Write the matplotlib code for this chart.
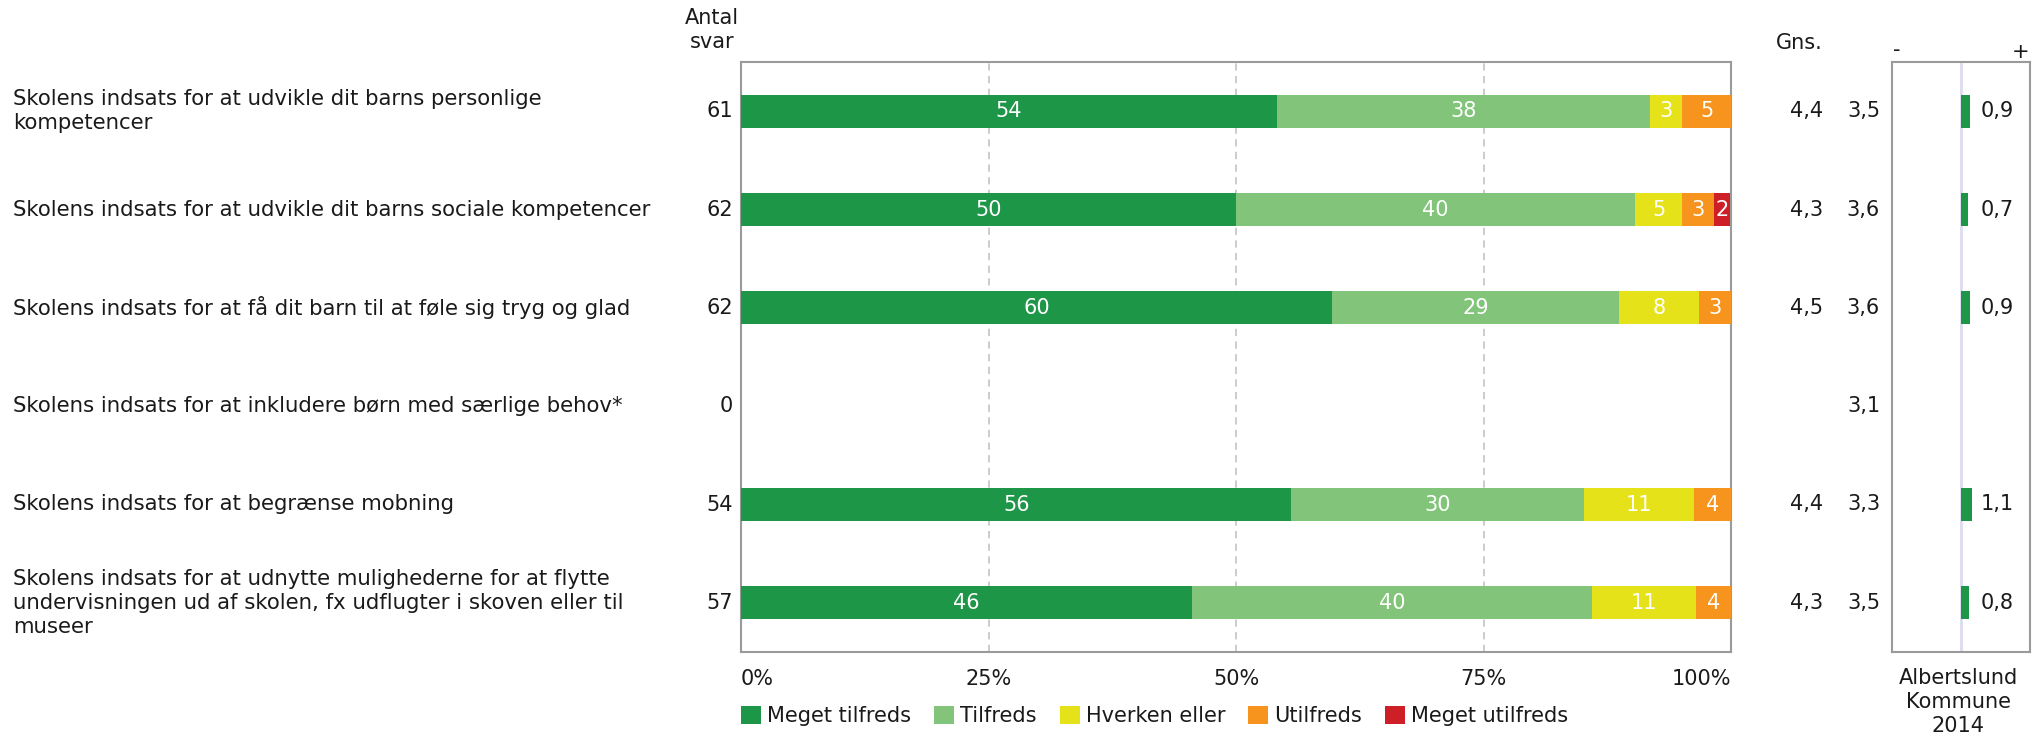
import matplotlib
matplotlib.use("Agg")
import matplotlib.pyplot as plt
import matplotlib.transforms as mtransforms
from matplotlib.patches import Patch

plt.rcParams['font.family'] = ['DejaVu Sans']

# ---------------- data ----------------
questions = [
    "Skolens indsats for at udvikle dit barns personlige\nkompetencer",
    "Skolens indsats for at udvikle dit barns sociale kompetencer",
    "Skolens indsats for at få dit barn til at føle sig tryg og glad",
    "Skolens indsats for at inkludere børn med særlige behov*",
    "Skolens indsats for at begrænse mobning",
    "Skolens indsats for at udnytte mulighederne for at flytte\nundervisningen ud af skolen, fx udflugter i skoven eller til\nmuseer",
]
categories = ["Meget tilfreds", "Tilfreds", "Hverken eller", "Utilfreds", "Meget utilfreds"]
meget_tilfreds = [54.1, 50.0, 59.7, 0.0, 55.6, 45.6]
tilfreds = [37.7, 40.3, 29.0, 0.0, 29.6, 40.4]
hverken = [3.3, 4.8, 8.1, 0.0, 11.1, 10.5]
utilfreds = [4.9, 3.2, 3.2, 0.0, 3.7, 3.5]
meget_utilfreds = [0.0, 1.6, 0.0, 0.0, 0.0, 0.0]
antal_svar = [61, 62, 62, 0, 54, 57]
gns = ["4,4", "4,3", "4,5", "", "4,4", "4,3"]
kommune = ["3,5", "3,6", "3,6", "3,1", "3,3", "3,5"]
diff = [0.9, 0.7, 0.9, None, 1.1, 0.8]
xticks = [0, 25, 50, 75, 100]
xticklabels = ["0%", "25%", "50%", "75%", "100%"]

colors = ["#1E9648", "#82C57A", "#E6E21A", "#F7941D", "#CE1F27"]

W, H = 2042, 736
fig = plt.figure(figsize=(W / 100, H / 100), dpi=100)


def fx(px):
    return px / W


def fy(py):
    return 1 - py / H


FS = 15
FSL = 15.3
TXT = "#1a1a1a"
SPINE = "#9a9a9a"

# main axes
ax = fig.add_axes([fx(741), fy(652), fx(1731) - fx(741), fy(62) - fy(652)])
series = [meget_tilfreds, tilfreds, hverken, utilfreds, meget_utilfreds]
n = len(questions)
ypos = list(range(n))
left = [0.0] * n
for s, c in zip(series, colors):
    ax.barh(ypos, s, left=left, height=0.335, color=c, edgecolor="none", zorder=3)
    for i, v in enumerate(s):
        if v > 0:
            ax.text(left[i] + v / 2, i, f"{int(v + 0.5):d}", ha="center", va="center",
                    color="white", fontsize=FS, zorder=4)
    left = [l + v for l, v in zip(left, s)]

ax.set_xlim(0, 100)
ax.set_ylim(n - 0.5, -0.5)
ax.set_yticks([])
ax.set_xticks(xticks)
ax.set_xticklabels(xticklabels, fontsize=FS, color=TXT)
ax.tick_params(axis="x", length=0, pad=12)
labs = ax.get_xticklabels()
labs[0].set_ha("left")
labs[-1].set_ha("right")
for x in xticks[1:-1]:
    ax.axvline(x, color="#c8c8c8", lw=1.3, ls=(0, (4, 3)), zorder=1)
for sp in ax.spines.values():
    sp.set_color(SPINE)
    sp.set_linewidth(1.5)

tr = mtransforms.blended_transform_factory(fig.transFigure, ax.transData)
for i, q in enumerate(questions):
    ax.text(fx(13), i, q, transform=tr, ha="left", va="center", fontsize=FSL,
            color=TXT, linespacing=1.25)
    ax.text(fx(733), i, str(antal_svar[i]), transform=tr, ha="right", va="center",
            fontsize=FS, color=TXT)
    if gns[i]:
        ax.text(fx(1823), i, gns[i], transform=tr, ha="right", va="center",
                fontsize=FS, color=TXT)
    ax.text(fx(1880), i, kommune[i], transform=tr, ha="right", va="center",
            fontsize=FS, color=TXT)

fig.text(fx(712), fy(30), "Antal\nsvar", ha="center", va="center", fontsize=FS,
         color=TXT, linespacing=1.27)
fig.text(fx(1823), fy(43), "Gns.", ha="right", va="center", fontsize=FS, color=TXT)

# right comparison panel
ax2 = fig.add_axes([fx(1892), fy(652), fx(2030) - fx(1892), fy(62) - fy(652)])
ax2.set_xlim(-6.9, 6.9)
ax2.set_ylim(n - 0.5, -0.5)
ax2.axvline(0, color="#dcdcf0", lw=2, zorder=1)
for i, d in enumerate(diff):
    if d is not None:
        ax2.barh(i, d, left=0, height=0.335, color=colors[0], edgecolor="none", zorder=3)
        ax2.text(2.0, i, f"{d:.1f}".replace(".", ","), ha="left", va="center",
                 fontsize=FS, color=TXT)
ax2.set_xticks([])
ax2.set_yticks([])
for sp in ax2.spines.values():
    sp.set_color(SPINE)
    sp.set_linewidth(1.5)

fig.text(fx(1897), fy(50), "-", ha="center", va="center", fontsize=FS, color=TXT)
fig.text(fx(2021), fy(52), "+", ha="center", va="center", fontsize=FS, color=TXT)
fig.text(fx(1958), fy(702), "Albertslund\nKommune\n2014", ha="center", va="center",
         fontsize=FS, color=TXT, linespacing=1.22)

# legend
handles = [Patch(facecolor=c, edgecolor="none", label=l) for c, l in zip(colors, categories)]
fig.legend(handles=handles, loc="center left", bbox_to_anchor=(fx(733), fy(716)),
           ncol=5, frameon=False, fontsize=FS, handlelength=0.95, handleheight=0.95,
           handletextpad=0.3, columnspacing=1.1, borderaxespad=0, labelcolor=TXT)

fig.savefig("out.png", dpi=100)
